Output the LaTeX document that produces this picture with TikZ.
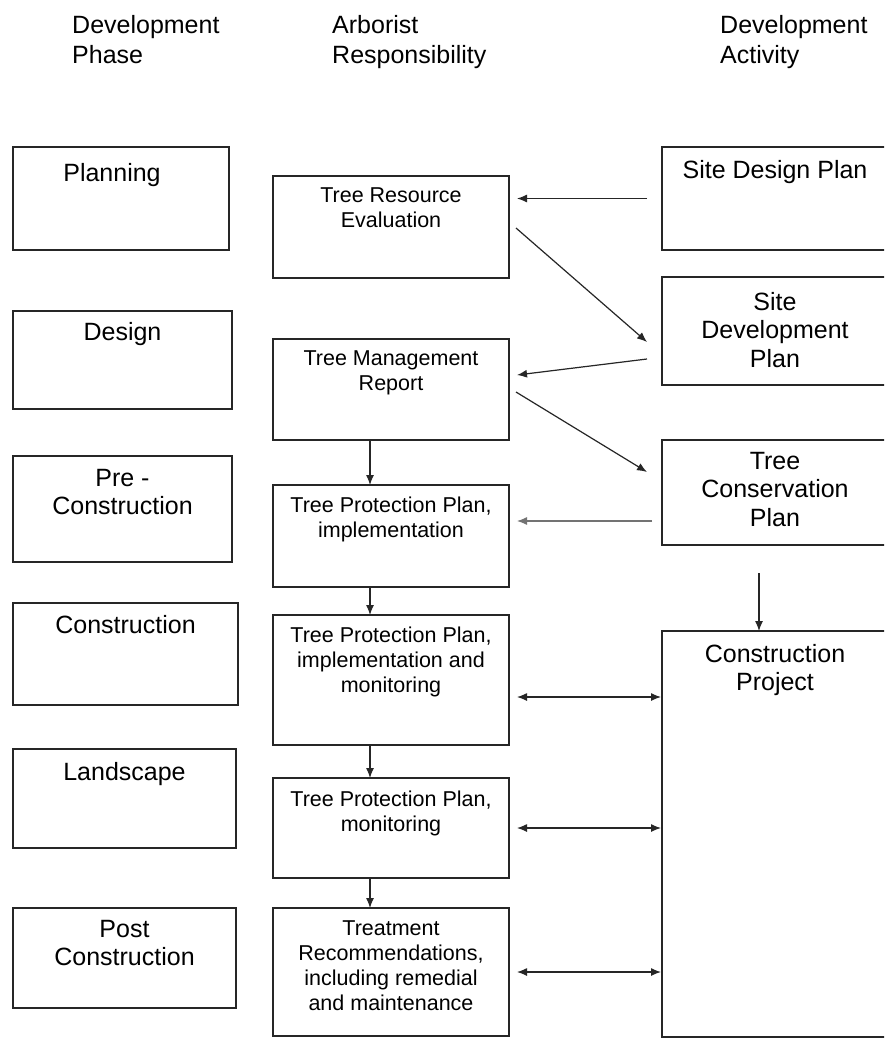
\documentclass[tikz,border=0pt]{standalone}
\usepackage{fontspec}
\setmainfont{Liberation Sans}
\usetikzlibrary{arrows.meta,calc}
\begin{document}
\begin{tikzpicture}[x=1pt,y=-1pt,
 box/.style={draw=black!85, line width=1.8pt, rectangle, anchor=north west, inner sep=0pt, outer sep=0pt},
 big/.style={font=\fontsize{25}{28.5}\selectfont, text=black, align=center, inner sep=0pt},
 small/.style={font=\fontsize{21.5}{25}\selectfont, text=black, align=center, inner sep=0pt},
 head/.style={font=\fontsize{25}{30}\selectfont, text=black, align=left, inner sep=0pt, anchor=north west},
 arr/.style={line width=1.2pt, draw=black!85, -{Latex[length=10pt,width=8pt]}},
 garr/.style={line width=1.2pt, draw=black!55, -{Latex[length=10pt,width=8pt]}},
 barr/.style={line width=1.2pt, draw=black!85, {Latex[length=10pt,width=8pt]}-{Latex[length=10pt,width=8pt]}},
]
\clip (0,0) rectangle (884,1039);
\fill[white] (0,0) rectangle (884,1039);

% headers
\node[head] (h1) at (72,15) {Development\\Phase};
\node[head] (h2) at (332,15) {Arborist\\Responsibility};
\node[head] (h3) at (720,15) {Development\\Activity};

% left column
\node[box, minimum width=216pt, minimum height=103pt] (plan) at (13,147) {};
\node[box, minimum width=219pt, minimum height=98pt] (design) at (13,311) {};
\node[box, minimum width=219pt, minimum height=106pt] (precon) at (13,456) {};
\node[box, minimum width=225pt, minimum height=102pt] (constr) at (13,603) {};
\node[box, minimum width=223pt, minimum height=99pt] (landsc) at (13,749) {};
\node[box, minimum width=223pt, minimum height=100pt] (post) at (13,908) {};

\node[big, anchor=north] (planT) at ($(plan.north)+(-9,16)$) {Planning};
\node[big, anchor=north] (designT) at ($(design.north)+(0,11)$) {Design};
\node[big, anchor=north] (preconT) at ($(precon.north)+(0,13)$) {Pre -\\Construction};
\node[big, anchor=north] (constrT) at ($(constr.north)+(0,12)$) {Construction};
\node[big, anchor=north] (landscT) at ($(landsc.north)+(0,13)$) {Landscape};
\node[big, anchor=north] (postT) at ($(post.north)+(0,12)$) {Post\\Construction};

% middle column
\node[box, minimum width=236pt, minimum height=102pt] (tre) at (273,176) {};
\node[box, minimum width=236pt, minimum height=101pt] (tmr) at (273,339) {};
\node[box, minimum width=236pt, minimum height=102pt] (tppi) at (273,485) {};
\node[box, minimum width=236pt, minimum height=130pt] (tppim) at (273,615) {};
\node[box, minimum width=236pt, minimum height=100pt] (tppm) at (273,778) {};
\node[box, minimum width=236pt, minimum height=128pt] (treat) at (273,908) {};

\node[small, anchor=north] (treT) at ($(tre.north)+(0,12)$) {Tree Resource\\Evaluation};
\node[small, anchor=north] (tmrT) at ($(tmr.north)+(0,12)$) {Tree Management\\Report};
\node[small, anchor=north] (tppiT) at ($(tppi.north)+(0,12)$) {Tree Protection Plan,\\implementation};
\node[small, anchor=north] (tppimT) at ($(tppim.north)+(0,12)$) {Tree Protection Plan,\\implementation and\\monitoring};
\node[small, anchor=north] (tppmT) at ($(tppm.north)+(0,13)$) {Tree Protection Plan,\\monitoring};
\node[small, anchor=north] (treatT) at ($(treat.north)+(0,12)$) {Treatment\\Recommendations,\\including remedial\\and maintenance};

% right column
\node[box, minimum width=226pt, minimum height=103pt] (sdp) at (662,147) {};
\node[box, minimum width=226pt, minimum height=108pt] (sdevp) at (662,277) {};
\node[box, minimum width=226pt, minimum height=105pt] (tcp) at (662,440) {};
\node[box, minimum width=226pt, minimum height=406pt] (cp) at (662,631) {};

\node[big, anchor=north] (sdpT) at ($(sdp.north)+(0,13)$) {Site Design Plan};
\node[big] (sdevpT) at ($(sdevp.center)+(0,-1)$) {Site\\Development\\Plan};
\node[big] (tcpT) at ($(tcp.center)+(0,-3)$) {Tree\\Conservation\\Plan};
\node[big, anchor=north] (cpT) at ($(cp.north)+(0,13)$) {Construction\\Project};

% connectors
\draw[arr, shorten <=15pt, shorten >=8pt] (sdp.west) -- (sdp.west -| tre.east);
\draw[arr] ($(tre.east)+(7,1)$) -- ($(sdevp.west)+(-15,11)$);
\draw[arr] ($(sdevp.west)+(-15,28)$) -- ($(tmr.east)+(8,-14.5)$);
\draw[arr] ($(tmr.east)+(7,2.5)$) -- ($(tcp.west)+(-15,-20.5)$);
\draw[garr] ($(tcp.west)+(-10,28.5)$) -- ($(tcp.west -| tppi.east)+(8,28.5)$);

\draw[arr] ($(tmr.south)+(-21,0)$) -- ($(tppi.north)+(-21,0)$);
\draw[arr] ($(tppi.south)+(-21,0)$) -- ($(tppim.north)+(-21,0)$);
\draw[arr] ($(tppim.south)+(-21,0)$) -- ($(tppm.north)+(-21,0)$);
\draw[arr] ($(tppm.south)+(-21,0)$) -- ($(treat.north)+(-21,0)$);

\draw[arr] ($(tcp.south)+(-16,28)$) -- ($(cp.north)+(-16,0)$);

\draw[barr] ($(tppim.east)+(8,17)$) -- ($(tppim.east -| cp.west)+(-1,17)$);
\draw[barr] ($(tppm.east)+(8,0)$) -- ($(tppm.east -| cp.west)+(-1,0)$);
\draw[barr] ($(treat.east)+(8,0)$) -- ($(treat.east -| cp.west)+(-1,0)$);
\end{tikzpicture}
\end{document}
